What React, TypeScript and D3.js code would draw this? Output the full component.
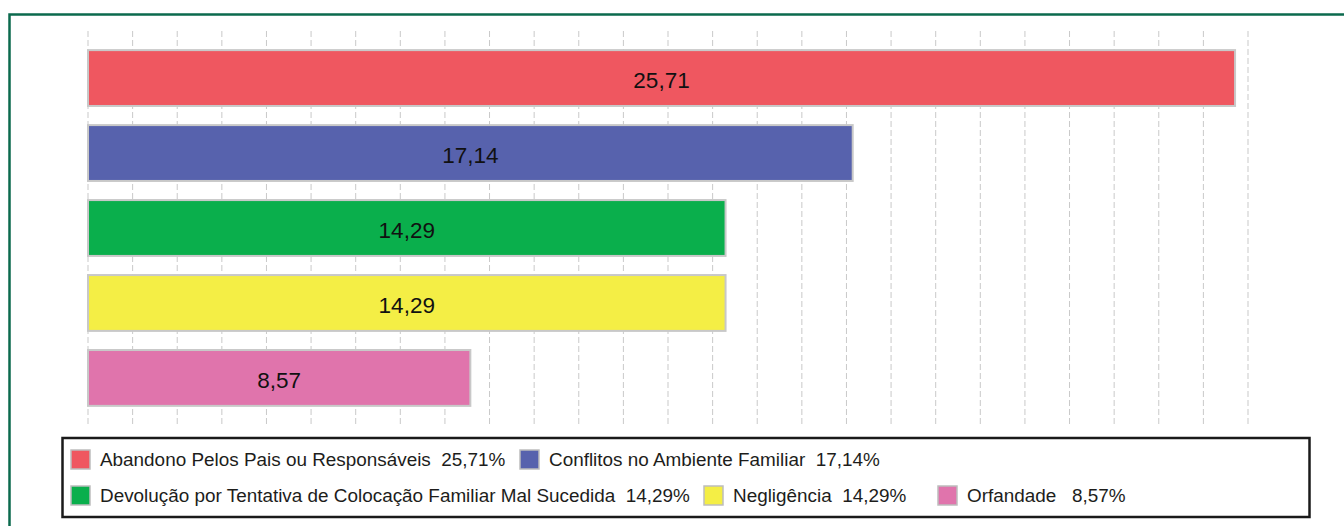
import { useMemo } from 'react';
import * as d3 from 'd3';

const WIDTH = 1344;
const HEIGHT = 526;

const categories = [
  'Abandono Pelos Pais ou Responsáveis',
  'Conflitos no Ambiente Familiar',
  'Devolução por Tentativa de Colocação Familiar Mal Sucedida',
  'Negligência',
  'Orfandade',
];
const values = [25.71, 17.14, 14.29, 14.29, 8.57];
const valueLabels = ['25,71', '17,14', '14,29', '14,29', '8,57'];
const legendLabels = [
  'Abandono Pelos Pais ou Responsáveis  25,71%',
  'Conflitos no Ambiente Familiar  17,14%',
  'Devolução por Tentativa de Colocação Familiar Mal Sucedida  14,29%',
  'Negligência  14,29%',
  'Orfandade   8,57%',
];
const gridTicks = d3.range(0, 27);

const COLORS = ['#ef5760', '#5762ad', '#0aaf4c', '#f4ee45', '#e074ac'];

// legend placement (row, x of swatch) - copied from the layout of the original
const LEGEND_POS: [number, number][] = [
  [0, 71],
  [0, 520],
  [1, 71],
  [1, 704],
  [1, 938],
];

const FONT = "'Liberation Sans', Arial, Helvetica, sans-serif";

export default function App() {
  const x = useMemo(
    () => d3.scaleLinear().domain([0, 26]).range([88, 1248]),
    []
  );
  const y = useMemo(
    () =>
      d3
        .scaleBand<string>()
        .domain(categories)
        .range([31, 425])
        .paddingInner(0.255)
        .paddingOuter(0.255),
    []
  );

  return (
    <div style={{ position: 'absolute', left: 0, top: 0 }}>
      <svg width={WIDTH} height={HEIGHT} style={{ display: 'block' }} fontFamily={FONT}>
        <rect x={0} y={0} width={WIDTH} height={HEIGHT} fill="#ffffff" />
        {/* outer frame */}
        <rect
          x={9.5}
          y={14.5}
          width={WIDTH + 20}
          height={HEIGHT + 20}
          fill="none"
          stroke="#0b6a4d"
          strokeWidth={2.5}
        />

        {/* grid */}
        {gridTicks.map((t) => (
          <line
            key={t}
            x1={x(t)}
            x2={x(t)}
            y1={31}
            y2={424}
            stroke="#c9c9c9"
            strokeWidth={1}
            strokeDasharray="6,3"
          />
        ))}

        {/* bars */}
        {categories.map((c, i) => {
          const by = y(c)!;
          const bw = x(values[i]) - x(0);
          return (
            <g key={c}>
              <rect
                x={x(0)}
                y={by}
                width={bw}
                height={y.bandwidth()}
                fill={COLORS[i]}
                stroke="#c8c8c8"
                strokeWidth={2}
              />
              <text
                x={x(0) + bw / 2}
                y={by + y.bandwidth() / 2 + 2}
                dy="0.35em"
                textAnchor="middle"
                fontSize={22.5}
                fill="#111111"
              >
                {valueLabels[i]}
              </text>
            </g>
          );
        })}

        {/* legend */}
        <rect
          x={62.5}
          y={438}
          width={1247}
          height={79}
          fill="#ffffff"
          stroke="#1a1a1a"
          strokeWidth={2.5}
        />
        {legendLabels.map((l, i) => {
          const [row, lx] = LEGEND_POS[i];
          const cy = 459.5 + row * 36;
          return (
            <g key={l}>
              <rect
                x={lx}
                y={cy - 9.5}
                width={19}
                height={19}
                fill={COLORS[i]}
                stroke="#bdbdbd"
                strokeWidth={1.5}
              />
              <text
                x={lx + 29}
                y={cy}
                dy="0.35em"
                fontSize={18.9}
                fill="#1d1d1b"
                style={{ whiteSpace: 'pre' }}
              >
                {l}
              </text>
            </g>
          );
        })}
      </svg>
    </div>
  );
}
